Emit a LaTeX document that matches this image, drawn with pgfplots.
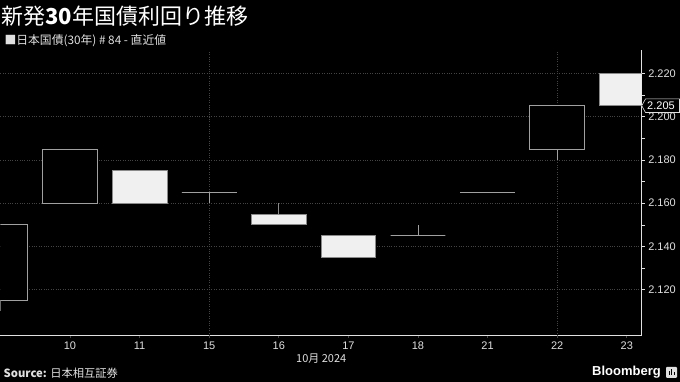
\documentclass[border=0pt]{standalone}
\usepackage{pgfplots}
\pgfplotsset{compat=1.18}
\usepgfplotslibrary{statistics}
\usepackage{fontspec}
\setmainfont{Liberation Sans}
\newfontfamily\jp{Noto Sans CJK JP}
\definecolor{cgray}{HTML}{A0A0A0}
\definecolor{dgray}{HTML}{8A8A8A}
\definecolor{cfill}{HTML}{F0F0F0}
\definecolor{txt}{HTML}{E0E0E0}
\definecolor{gridc}{HTML}{444444}
\begin{document}
\begin{tikzpicture}[x=1pt,y=1pt]
\fill[black] (0,0) rectangle (680,382);
\begin{axis}[
  at={(0pt,46.5pt)}, anchor=south west,
  scale only axis, width=641.7pt, height=285.5pt,
  xmin=0, xmax=9.215, ymin=2.09897, ymax=2.23075,
  axis x line*=bottom, axis y line*=right,
  axis line style={draw=txt, line width=0.8pt},
  xtick={1,2,3,4,5,6,7,8,9},
  xticklabels={10,11,15,16,17,18,21,22,23},
  ytick={2.12,2.14,2.16,2.18,2.20,2.22},
  minor y tick num=1,
  yticklabel style={/pgf/number format/.cd, fixed, precision=3, zerofill, /tikz/.cd, font=\fontsize{11}{12}\selectfont, text=txt},
  /pgf/number format/assume math mode=true,
  xticklabel style={font=\fontsize{11}{12}\selectfont, text=txt},
  tick align=outside,
  major tick length=3pt, minor tick length=3pt,
  tick style={draw=txt, line width=0.6pt},
  x tick style={draw=gridc},
  ymajorgrids,
  grid style={draw=gridc, dotted, line width=0.7pt},
  extra x ticks={3,8}, extra x tick labels={},
  extra x tick style={grid=major, major tick length=0pt},
  boxplot/draw direction=y,
  boxplot/box extend=0.785,
  boxplot/whisker extend=0,
  up/.style={draw=cgray, fill=black, line width=0.8pt},
  dn/.style={draw=dgray, fill=cfill, line width=0.8pt},
  clip=true,
]
% 9 Oct (hollow, up)
\addplot[up, boxplot prepared={draw position=0, lower whisker=2.110, lower quartile=2.115, median=2.115, upper quartile=2.150, upper whisker=2.150}] coordinates {};
% 10 Oct
\addplot[up, boxplot prepared={draw position=1, lower whisker=2.160, lower quartile=2.160, median=2.160, upper quartile=2.185, upper whisker=2.185}] coordinates {};
% 11 Oct (filled, down)
\addplot[dn, boxplot prepared={draw position=2, lower whisker=2.160, lower quartile=2.160, median=2.160, upper quartile=2.175, upper whisker=2.175}] coordinates {};
% 15 Oct (doji)
\addplot[up, boxplot prepared={draw position=3, lower whisker=2.160, lower quartile=2.165, median=2.165, upper quartile=2.165, upper whisker=2.165}] coordinates {};
% 16 Oct
\addplot[dn, boxplot prepared={draw position=4, lower whisker=2.150, lower quartile=2.150, median=2.150, upper quartile=2.155, upper whisker=2.160}] coordinates {};
% 17 Oct
\addplot[dn, boxplot prepared={draw position=5, lower whisker=2.135, lower quartile=2.135, median=2.135, upper quartile=2.145, upper whisker=2.145}] coordinates {};
% 18 Oct (doji)
\addplot[up, boxplot prepared={draw position=6, lower whisker=2.145, lower quartile=2.145, median=2.145, upper quartile=2.145, upper whisker=2.150}] coordinates {};
% 21 Oct (doji)
\addplot[up, boxplot prepared={draw position=7, lower whisker=2.165, lower quartile=2.165, median=2.165, upper quartile=2.165, upper whisker=2.165}] coordinates {};
% 22 Oct
\addplot[up, boxplot prepared={draw position=8, lower whisker=2.180, lower quartile=2.185, median=2.185, upper quartile=2.205, upper whisker=2.205}] coordinates {};
% 23 Oct
\addplot[dn, boxplot prepared={draw position=9, lower whisker=2.205, lower quartile=2.205, median=2.205, upper quartile=2.220, upper whisker=2.220}] coordinates {};
\end{axis}
% last value label
\filldraw[fill=black, draw=txt, line width=0.6pt] (641.7,276.2) -- (645.5,283) -- (679.5,283) -- (679.5,269.4) -- (645.5,269.4) -- cycle;
\node[anchor=west, text=white, inner sep=0pt, font=\fontsize{11}{12}\selectfont] at (647,276.2) {2.205};
% title
\node[anchor=west, inner sep=0pt, text=white, font=\jp\fontsize{22}{24}\selectfont] at (1,366) {新発{\bfseries 30}年国債利回り推移};
% legend
\node[anchor=west, inner sep=0pt, text=txt, font=\jp\fontsize{11.8}{13}\selectfont] at (4,341.5) {■日本国債(30年) \# 84 - 直近値};
% x axis title
\node[anchor=center, inner sep=0pt, text=txt, font=\jp\fontsize{11}{12}\selectfont] at (321,23) {10月 2024};
% source
\node[anchor=west, inner sep=0pt, text=txt, font=\jp\fontsize{11.3}{12}\selectfont] at (3,9) {{\bfseries Source:} 日本相互証券};
% Bloomberg logo
\node[anchor=east, inner sep=0pt, text=white, font=\bfseries\fontsize{13}{14}\selectfont] at (661,10) {Bloomberg};
\fill[txt, rounded corners=1pt] (666,4) rectangle (677,15);
\fill[black] (668.5,7) rectangle (669.8,10.5);
\fill[black] (671,7) rectangle (672.3,12.5);
\fill[black] (673.5,7) rectangle (674.8,9.5);
\end{tikzpicture}
\end{document}
